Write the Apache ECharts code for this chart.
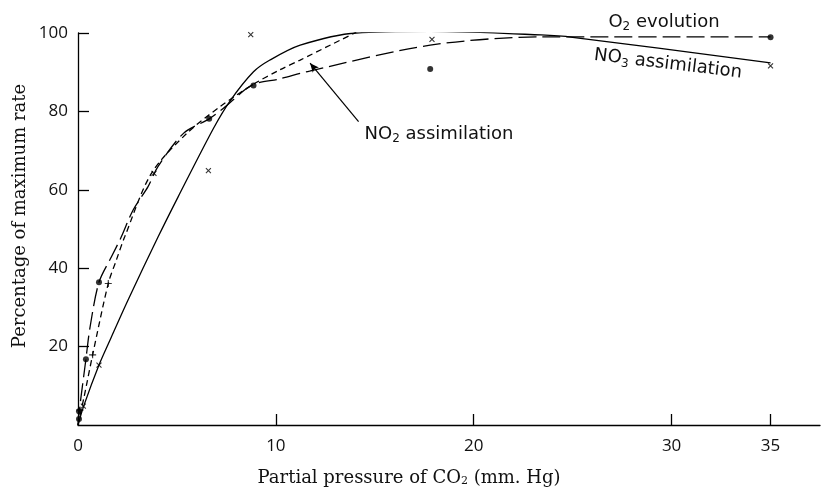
<!DOCTYPE html>
<html>
<head>
<meta charset="utf-8">
<script src="https://cdn.jsdelivr.net/npm/echarts@6/dist/echarts.min.js"></script>
<style>
  html, body { margin: 0; padding: 0; background: #fff; }
  #chart { width: 821px; height: 489px; }
</style>
</head>
<body>
<div id="chart"></div>
<script>
// x ticks / labels (partial pressure of CO2, mm Hg)
const xTickValues = [10, 20, 30, 35];
const xLabelValues = [0, 10, 20, 30, 35];

// fitted curves, [pCO2, % of max rate]
const o2Curve = [[0, 0], [0.05, 3], [0.4, 16.8], [0.61, 25], [1.06, 36.4], [1.69, 42.9], [2.19, 48],
  [2.78, 54.8], [3.54, 60.8], [4.04, 65.9], [5.33, 74.4], [6.63, 78.1], [7.35, 80.8], [8.79, 86.7],
  [10.2, 88.3], [11.7, 90.3], [17.8, 96.9], [23.4, 99], [35, 99]];
const no3Curve = [[0, 0], [0.3, 5], [1.06, 15.3], [1.62, 21.7], [2.53, 31.9], [4.05, 48], [5.06, 58.2],
  [6.85, 75.7], [7.69, 82.7], [8.87, 90.1], [9.7, 93.1], [11.23, 96.9], [14.06, 100],
  [17.8, 100.4], [23.4, 99.5], [25, 98.9], [35, 92.4]];
const no2Curve = [[0, 0], [0.3, 7], [0.74, 17.9], [1.53, 36.1], [1.94, 42.1], [2.36, 48], [3.71, 64.2],
  [5.5, 74.4], [7.18, 81.2], [8.79, 86.7], [10.2, 90.6], [11.23, 93.1], [14.06, 100.2]];

// observed points
const o2Dots = [[0.05, 1.5], [0.05, 3.5], [0.4, 16.8], [1.06, 36.4], [6.63, 78.1], [8.87, 86.6],
  [17.8, 90.8], [35, 98.9]];
const no3Crosses = [[0.27, 4.8], [1.06, 15.3], [3.84, 64.2], [6.59, 64.9], [8.73, 99.6],
  [17.89, 98.4], [35, 91.6]];
const no2Pluses = [[0.1, 3.8], [0.74, 17.9], [1.53, 36.1], [14.06, 100.2]];

// pointer for the NO2 label
const no2Pointer = [[14.18, 77.4], [11.73, 92.3]];

const chart = echarts.init(document.getElementById('chart'));
const sans = '"DejaVu Sans", sans-serif';
const tickFont = '"Open Sans", sans-serif';
const serif = '"DejaVu Serif", serif';

const lineBase = (data, type) => ({
  type: 'line',
  data,
  smooth: 0.3,
  showSymbol: false,
  silent: true,
  lineStyle: { color: '#000', width: 1.3, type },
});

const crossPath = 'path://M0,0L10,10M10,0L0,10';
const plusPath = 'path://M5,0L5,10M0,5L10,5';

const option = {
  backgroundColor: '#fff',
  animation: false,
  grid: { left: 78, right: 1, top: 33, bottom: 64 },
  xAxis: {
    type: 'value',
    min: 0,
    max: 37.5,
    splitLine: { show: false },
    axisLine: { lineStyle: { color: '#000', width: 1.3 } },
    axisTick: { inside: true, length: 11, customValues: xTickValues, lineStyle: { color: '#000', width: 1.3 } },
    axisLabel: { customValues: xLabelValues, color: '#111', fontFamily: tickFont, fontSize: 17, margin: 13 },
  },
  yAxis: {
    type: 'value',
    min: 0,
    max: 100,
    interval: 20,
    splitLine: { show: false },
    axisLine: { show: true, lineStyle: { color: '#000', width: 1.3 } },
    axisTick: { show: true, inside: true, length: 11, lineStyle: { color: '#000', width: 1.3 } },
    axisLabel: { showMinLabel: false, color: '#111', fontFamily: tickFont, fontSize: 17, margin: 10 },
  },
  series: [
    lineBase(o2Curve, [18, 6]),
    lineBase(no3Curve, 'solid'),
    Object.assign(lineBase(no2Curve, [6, 4]), {
      markLine: {
        silent: true,
        symbol: ['none', 'arrow'],
        symbolSize: [6, 9],
        label: { show: false },
        lineStyle: { color: '#000', width: 1.2, type: 'solid' },
        data: [[{ coord: no2Pointer[0] }, { coord: no2Pointer[1] }]],
      },
    }),
    {
      type: 'scatter', data: o2Dots, symbol: 'circle', symbolSize: 6,
      itemStyle: { color: '#000' },
    },
    {
      type: 'scatter', data: no3Crosses, symbol: crossPath, symbolSize: 5,
      itemStyle: { color: 'transparent', borderColor: '#000', borderWidth: 1.1 },
    },
    {
      type: 'scatter', data: no2Pluses, symbol: plusPath, symbolSize: 7,
      itemStyle: { color: 'transparent', borderColor: '#000', borderWidth: 1.1 },
    },
  ],
  graphic: [
    {
      type: 'text', x: 409, y: 478,
      style: {
        text: 'Partial pressure of CO{s|2} (mm. Hg)',
        font: '18px ' + serif, fill: '#111', align: 'center', verticalAlign: 'middle',
        rich: { s: { fontSize: 11, fontFamily: serif, padding: [7, 0, 0, 0] } },
      },
    },
    {
      type: 'text', x: 20, y: 216, rotation: Math.PI / 2,
      style: {
        text: 'Percentage of maximum rate', font: '18px ' + serif, fill: '#111',
        align: 'center', verticalAlign: 'middle',
      },
    },
    {
      type: 'text', x: 664, y: 22,
      style: {
        text: 'O{s|2} evolution', font: '18px ' + sans, fill: '#111',
        align: 'center', verticalAlign: 'middle',
        rich: { s: { fontSize: 12, fontFamily: sans, padding: [10, 0, 0, 0] } },
      },
    },
    {
      type: 'text', x: 668, y: 64, rotation: -0.12,
      style: {
        text: 'NO{s|3} assimilation', font: '18px ' + sans, fill: '#111',
        align: 'center', verticalAlign: 'middle',
        rich: { s: { fontSize: 12, fontFamily: sans, padding: [10, 0, 0, 0] } },
      },
    },
    {
      type: 'text', x: 439, y: 134,
      style: {
        text: 'NO{s|2} assimilation', font: '18px ' + sans, fill: '#111',
        align: 'center', verticalAlign: 'middle',
        rich: { s: { fontSize: 12, fontFamily: sans, padding: [10, 0, 0, 0] } },
      },
    },
  ],
};

chart.setOption(option);
</script>
</body>
</html>
